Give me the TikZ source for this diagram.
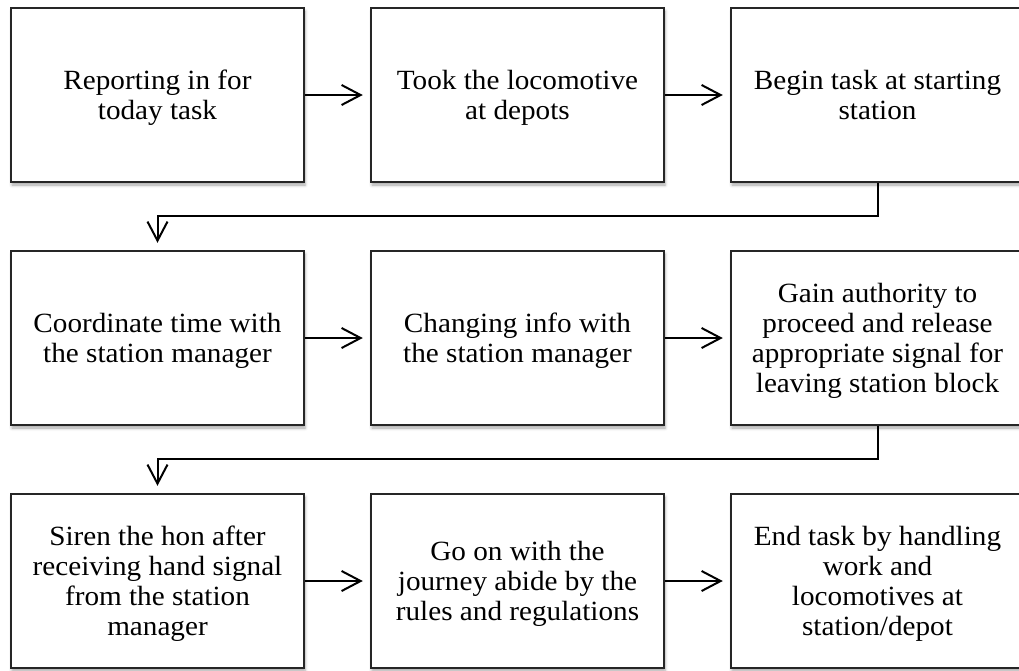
\documentclass[tikz,border=0pt]{standalone}
\usepackage{fontspec}
\setmainfont{Liberation Serif}[FakeStretch=1.05]
\usetikzlibrary{arrows.meta,shadows.blur}
% centred multi-line text, set slightly below the box centre
\newcommand{\linesblock}[1]{\raisebox{-3pt}[\height][\depth]{%
  \begin{tabular}{@{}c@{}}#1\end{tabular}}}
\begin{document}
\begin{tikzpicture}[x=1pt,y=-1pt,
  stepbox/.style={draw=black!85, line width=2.5pt, fill=white,
    minimum width=293pt, minimum height=174pt, inner sep=0pt,
    align=center, font=\fontsize{27.8}{30}\selectfont,
    blur shadow={shadow xshift=1pt, shadow yshift=-3pt,
      shadow blur radius=3pt, shadow opacity=35}},
  flow/.style={line width=2pt, -{Straight Barb[length=19pt,width=20pt]},
    shorten >=7pt}]
\useasboundingbox (0,0) rectangle (1019,670);

% first row
\node[stepbox] (r1) at (157.5,95)  {\linesblock{Reporting in for\\today task}};
\node[stepbox] (r2) at (517.5,95)  {\linesblock{Took the locomotive\\at depots}};
\node[stepbox] (r3) at (877.5,95)  {\linesblock{Begin task at starting\\station}};
% second row
\node[stepbox] (m1) at (157.5,338) {\linesblock{Coordinate time with\\the station manager}};
\node[stepbox] (m2) at (517.5,338) {\linesblock{Changing info with\\the station manager}};
\node[stepbox] (m3) at (877.5,338) {\linesblock{Gain authority to\\proceed and release\\appropriate signal for\\leaving station block}};
% third row
\node[stepbox] (b1) at (157.5,581) {\linesblock{Siren the hon after\\receiving hand signal\\from the station\\manager}};
\node[stepbox] (b2) at (517.5,581) {\linesblock{Go on with the\\journey abide by the\\rules and regulations}};
\node[stepbox] (b3) at (877.5,581) {\linesblock{End task by handling\\work and\\locomotives at\\station/depot}};

% connectors
\draw[flow] (r1.east) -- (r2.west);
\draw[flow] (r2.east) -- (r3.west);
\draw[flow] (r3.south) -- ++(0,33) -| (m1.north);
\draw[flow] (m1.east) -- (m2.west);
\draw[flow] (m2.east) -- (m3.west);
\draw[flow] (m3.south) -- ++(0,33) -| (b1.north);
\draw[flow] (b1.east) -- (b2.west);
\draw[flow] (b2.east) -- (b3.west);
\end{tikzpicture}
\end{document}
